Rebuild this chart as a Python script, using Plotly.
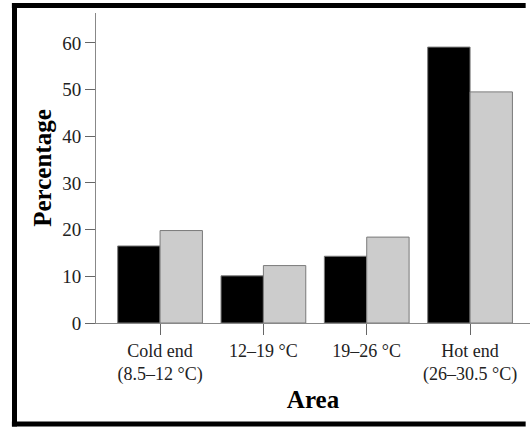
import plotly.graph_objects as go

categories = ["Cold end<br>(8.5–12 °C)", "12–19 °C", "19–26 °C", "Hot end<br>(26–30.5 °C)"]
series_black = [16.5, 10.1, 14.3, 59.1]
series_grey = [19.8, 12.3, 18.4, 49.5]
y_ticks = [0, 10, 20, 30, 40, 50, 60]

W, H = 530, 427
ML, MR, MT, MB = 96, 0, 13, 104
pw = W - ML - MR
ph = H - MT - MB

fig = go.Figure()
fig.add_trace(go.Bar(x=list(range(len(categories))), y=series_black, name="Series 1",
                     marker=dict(color="#000000", line=dict(color="#7a7a7a", width=1))))
fig.add_trace(go.Bar(x=list(range(len(categories))), y=series_grey, name="Series 2",
                     marker=dict(color="#cccccc", line=dict(color="#7a7a7a", width=1))))

font = "Liberation Serif, Times New Roman, serif"

def px_x(p):
    return (p - ML) / pw

def px_y(p):
    return (H - MB - p) / ph

frame_line = dict(color="black", width=5)
left_x, top_y, bot_y, right_x = px_x(14.5), px_y(5.5), px_y(424), 0.99
shapes = [
    dict(type="line", xref="paper", yref="paper", x0=left_x, x1=left_x, y0=bot_y - 0.008, y1=top_y + 0.008, line=frame_line),
    dict(type="line", xref="paper", yref="paper", x0=left_x - 0.006, x1=right_x, y0=top_y, y1=top_y, line=frame_line),
    dict(type="line", xref="paper", yref="paper", x0=left_x - 0.006, x1=right_x, y0=bot_y, y1=bot_y, line=frame_line),
]

fig.update_layout(
    width=W, height=H,
    margin=dict(l=ML, r=MR, t=MT, b=MB),
    paper_bgcolor="white", plot_bgcolor="white",
    barmode="group", bargap=0.18, bargroupgap=0,
    showlegend=False,
    font=dict(family=font, size=18, color="#222222"),
    xaxis=dict(
        tickmode="array", tickvals=list(range(len(categories))), ticktext=categories,
        range=[-0.62, 3.58], showline=True, linecolor="#888888", linewidth=1,
        ticks="outside", ticklen=11, tickcolor="#666666", tickwidth=1,
        showgrid=False, zeroline=False,
        title=dict(text="<b>Area</b>", font=dict(size=25, color="#000000"), standoff=6),
    ),
    yaxis=dict(
        range=[0, 66.4], tickmode="array", tickvals=y_ticks,
        tickfont=dict(size=19),
        showline=True, linecolor="#888888", linewidth=1,
        ticks="outside", ticklen=10, tickcolor="#666666", tickwidth=1,
        showgrid=False, zeroline=False,
        title=dict(text="<b>Percentage</b>", font=dict(size=25, color="#000000"), standoff=3),
    ),
    shapes=shapes,
)

fig.write_html("out.html", config={"displayModeBar": False},
               post_script="document.body.style.margin='0px';")
